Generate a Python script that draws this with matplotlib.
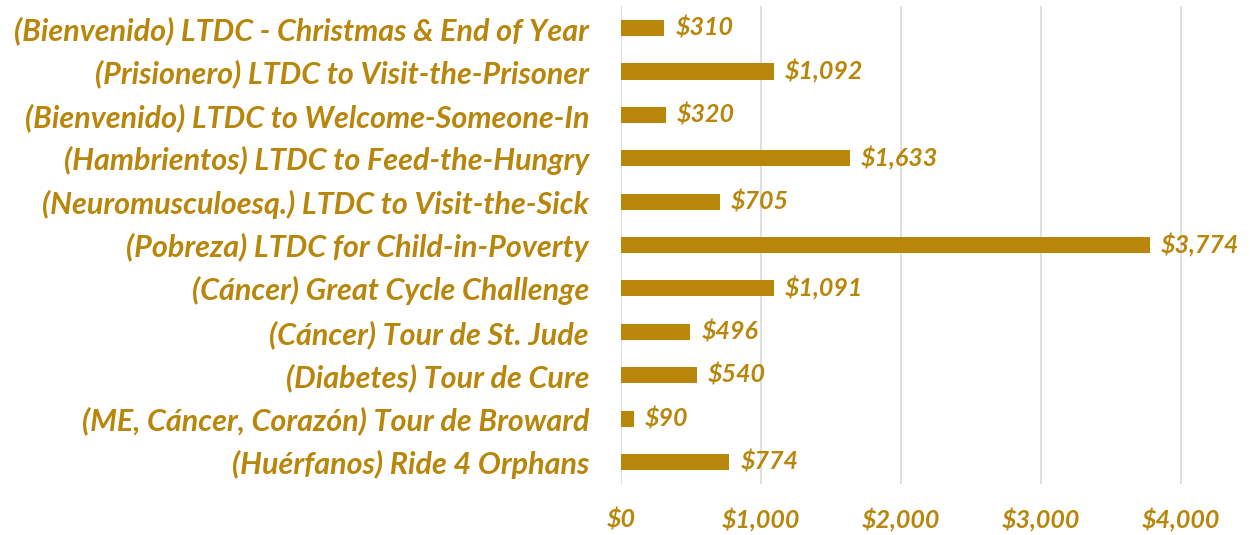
import matplotlib
matplotlib.use('Agg')
import matplotlib.pyplot as plt
from matplotlib.ticker import FuncFormatter

# Data (top to bottom as shown)
labels = [
    '(Bienvenido) LTDC - Christmas & End of Year',
    '(Prisionero) LTDC to Visit-the-Prisoner',
    '(Bienvenido) LTDC to Welcome-Someone-In',
    '(Hambrientos) LTDC to Feed-the-Hungry',
    '(Neuromusculoesq.) LTDC to Visit-the-Sick',
    '(Pobreza) LTDC for Child-in-Poverty',
    '(Cáncer) Great Cycle Challenge',
    '(Cáncer) Tour de St. Jude',
    '(Diabetes) Tour de Cure',
    '(ME, Cáncer, Corazón) Tour de Broward',
    '(Huérfanos) Ride 4 Orphans',
]
amounts = [310, 1092, 320, 1633, 705, 3774, 1091, 496, 540, 90, 774]
x_ticks = [0, 1000, 2000, 3000, 4000]

gold = '#B8860B'
font = dict(family='Lato', weight='bold', style='italic', color=gold)

fig = plt.figure(figsize=(12.5, 5.35), dpi=100)
ax = fig.add_axes([0.4968, 0.096, 0.4932, 0.892])

y = list(range(len(labels)))[::-1]
ax.barh(y, amounts, height=0.37, color=gold, zorder=3)
for yi, v in zip(y, amounts):
    ax.text(v + 80, yi, f'${v:,}', va='center', ha='left', fontsize=18, **font)

ax.set_ylim(-0.5, len(labels) - 0.5)
ax.set_xlim(0, 4400)
ax.set_yticks(y)
ax.set_yticklabels(labels, fontsize=22, **font)
ax.set_xticks(x_ticks)
ax.xaxis.set_major_formatter(FuncFormatter(lambda v, p: f'${int(v):,}'))
for t in ax.get_xticklabels():
    t.set_fontsize(18)
    t.set_fontfamily('Lato')
    t.set_fontweight('bold')
    t.set_fontstyle('italic')
    t.set_color(gold)
ax.tick_params(axis='both', length=0)
ax.tick_params(axis='y', pad=23)
ax.tick_params(axis='x', pad=18)
ax.grid(axis='x', color='#D9D9D9', linewidth=1.2, zorder=0)
for s in ax.spines.values():
    s.set_visible(False)

fig.savefig('out.png', dpi=100)
